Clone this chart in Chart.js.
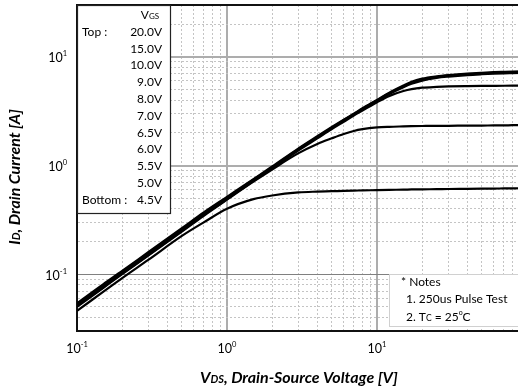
<!DOCTYPE html>
<html>
<head>
<meta charset="utf-8">
<script src="https://cdn.jsdelivr.net/npm/chart.js@4.4.1/dist/chart.umd.min.js"></script>
<style>
  html, body { margin: 0; padding: 0; background: #fff; overflow: hidden; }
  #wrap { width: 530px; height: 391px; }
</style>
</head>
<body>
<div id="wrap"><canvas id="outputChart" width="530" height="391"></canvas></div>
<script>
// drain-source voltage sample points [V]
const vds = [0.1, 0.15, 0.2, 0.3, 0.5, 0.7, 1, 1.5, 2, 3, 4, 5, 6, 7, 8, 10, 12, 15, 17, 20, 25, 30, 40, 50, 60, 70, 80, 100];

// drain current [A] per gate voltage
const id45 = [0.046, 0.069, 0.092, 0.136, 0.225, 0.30, 0.40, 0.49, 0.53, 0.565, 0.575, 0.58, 0.585, 0.588, 0.59, 0.594, 0.597, 0.60, 0.602, 0.604, 0.606, 0.608, 0.61, 0.612, 0.614, 0.615, 0.616, 0.618];
const id50 = [0.050, 0.075, 0.100, 0.149, 0.247, 0.345, 0.485, 0.71, 0.92, 1.30, 1.58, 1.78, 1.95, 2.08, 2.16, 2.24, 2.27, 2.29, 2.30, 2.31, 2.32, 2.32, 2.33, 2.33, 2.34, 2.34, 2.35, 2.35];
const id55 = [0.051, 0.076, 0.101, 0.151, 0.25, 0.35, 0.49, 0.72, 0.94, 1.38, 1.78, 2.17, 2.53, 2.88, 3.2, 3.82, 4.35, 4.85, 5.05, 5.2, 5.29, 5.34, 5.38, 5.40, 5.41, 5.42, 5.43, 5.45];
const id60 = [0.052, 0.078, 0.103, 0.154, 0.255, 0.356, 0.50, 0.73, 0.955, 1.40, 1.81, 2.21, 2.58, 2.94, 3.28, 3.92, 4.52, 5.25, 5.65, 6.05, 6.4, 6.58, 6.8, 6.92, 7.0, 7.05, 7.08, 7.13];
const id70 = [0.053, 0.079, 0.105, 0.157, 0.26, 0.362, 0.505, 0.74, 0.965, 1.42, 1.83, 2.23, 2.61, 2.97, 3.32, 3.97, 4.6, 5.35, 5.78, 6.2, 6.52, 6.7, 6.92, 7.04, 7.12, 7.17, 7.21, 7.26];
const id100 = [0.054, 0.081, 0.107, 0.16, 0.265, 0.37, 0.515, 0.75, 0.98, 1.44, 1.86, 2.26, 2.64, 3.0, 3.36, 4.02, 4.66, 5.45, 5.9, 6.3, 6.62, 6.8, 7.02, 7.14, 7.22, 7.27, 7.31, 7.36];
const curves = [id45, id50, id55, id60, id70, id100];

// gate voltages listed in the box, top to bottom
const vgsLabels = ['20.0V', '15.0V', '10.0V', '9.0V', '8.0V', '7.0V', '6.5V', '6.0V', '5.5V', '5.0V', '4.5V'];

// decade tick labels (10^n)
const xTickValues = [0.1, 1, 10];
const xTickExps = ['-1', '0', '1'];
const yTickValues = [0.1, 1, 10];
const yTickExps = ['-1', '0', '1'];

const notes = ['* Notes', '1. 250us Pulse Test'];

const FONT = 'Lato, "Open Sans", sans-serif';

const isDecade = v => Math.abs(Math.log10(v) - Math.round(Math.log10(v))) < 1e-6;

function logTicks(min, max) {
    const out = [];
    for (let e = Math.floor(Math.log10(min)); e <= Math.ceil(Math.log10(max)); e++) {
        for (let m = 1; m <= 9; m++) {
            const v = +(m * Math.pow(10, e)).toPrecision(6);
            if (v >= min - 1e-9 && v <= max + 1e-9) out.push({ value: v });
        }
    }
    return out;
}

// draws a row of text pieces with their own sizes / vertical shifts
function drawRuns(ctx, x, y, runs, align, style) {
    const widths = runs.map(r => {
        ctx.font = `${style || ''} ${r[1]}px ${FONT}`;
        return ctx.measureText(r[0]).width;
    });
    const total = widths.reduce((a, b) => a + b, 0);
    let cx = align === 'center' ? x - total / 2 : align === 'right' ? x - total : x;
    ctx.textAlign = 'left';
    runs.forEach((r, i) => {
        ctx.font = `${style || ''} ${r[1]}px ${FONT}`;
        ctx.fillText(r[0], cx, y + (r[2] || 0));
        cx += widths[i];
    });
}

const overlay = {
    id: 'overlay',
    afterDraw(chart) {
        const { ctx, chartArea: a, scales: { x, y } } = chart;
        ctx.save();
        ctx.fillStyle = '#000';
        ctx.textBaseline = 'alphabetic';

        // top frame
        ctx.strokeStyle = '#111';
        ctx.lineWidth = 2;
        ctx.beginPath();
        ctx.moveTo(a.left, a.top);
        ctx.lineTo(a.right, a.top);
        ctx.stroke();

        // tick labels
        xTickValues.forEach((v, i) => {
            drawRuns(ctx, x.getPixelForValue(v), 353, [['10', 12.5], [xTickExps[i], 7.5, -6]], 'center');
        });
        yTickValues.forEach((v, i) => {
            drawRuns(ctx, 67, y.getPixelForValue(v) + 5.5, [['10', 12.5], [yTickExps[i], 7.5, -6]], 'right');
        });

        // gate voltage box
        ctx.fillStyle = '#fff';
        ctx.fillRect(a.left, a.top, 93, 208);
        ctx.strokeStyle = '#222';
        ctx.lineWidth = 1.2;
        ctx.strokeRect(a.left + 0.5, a.top + 0.5, 93, 208);
        ctx.fillStyle = '#000';
        drawRuns(ctx, 150, 19, [['V', 12], ['GS', 8]], 'center');
        ctx.textBaseline = 'middle';
        vgsLabels.forEach((t, i) => {
            ctx.font = `12px ${FONT}`;
            ctx.textAlign = 'right';
            ctx.fillText(t, 162, 32 + i * 16.8);
        });
        ctx.textAlign = 'left';
        ctx.fillText('Top :', 82, 32);
        ctx.fillText('Bottom :', 82, 32 + 10 * 16.8);

        // notes box
        ctx.fillStyle = '#fff';
        ctx.fillRect(389, 275, 140, 52);
        ctx.strokeStyle = '#d0d0d0';
        ctx.lineWidth = 1;
        ctx.strokeRect(389.5, 274.5, 140, 52);
        ctx.fillStyle = '#000';
        ctx.font = `12px ${FONT}`;
        ctx.fillText(notes[0], 401, 282);
        ctx.fillText(notes[1], 406, 299);
        ctx.textBaseline = 'alphabetic';
        drawRuns(ctx, 406, 321, [['2. T', 12], ['C', 8.5], [' = 25', 12], ['o', 7, -6], ['C', 12]], 'left');

        // axis titles
        drawRuns(ctx, 299, 383, [['V', 16], ['DS', 11], [', Drain-Source Voltage [V]', 16]], 'center', 'italic bold');
        ctx.translate(20, 177);
        ctx.rotate(-Math.PI / 2);
        drawRuns(ctx, 0, 0, [['I', 16], ['D', 11], [', Drain Current [A]', 16]], 'center', 'italic bold');

        ctx.restore();
    }
};

const gridColor = (c, special) => {
    if (!c.tick) return '#c4c4c4';
    if (special && Math.abs(c.tick.value - 0.1) < 1e-9) return '#808080';
    return isDecade(c.tick.value) ? '#adadad' : '#c4c4c4';
};
const gridWidth = (c, special) => {
    if (!c.tick) return 1;
    if (special && Math.abs(c.tick.value - 0.1) < 1e-9) return 1;
    return isDecade(c.tick.value) ? 2 : 1;
};
const gridDash = c => (c.tick && !isDecade(c.tick.value)) ? [2, 2] : [];

new Chart(document.getElementById('outputChart'), {
    type: 'line',
    data: {
        datasets: curves.map(arr => ({
            data: vds.map((v, i) => ({ x: v, y: arr[i] })),
            borderColor: '#000',
            borderWidth: 2.2,
            pointRadius: 0,
            fill: false,
            cubicInterpolationMode: 'monotone'
        }))
    },
    options: {
        responsive: false,
        animation: false,
        layout: { padding: { top: 5, right: 3, left: 0, bottom: 0 } },
        plugins: { legend: { display: false }, tooltip: { enabled: false }, title: { display: false } },
        scales: {
            x: {
                type: 'logarithmic',
                min: 0.1,
                max: 100,
                afterBuildTicks: s => { s.ticks = logTicks(0.1, 100); },
                afterFit: s => { s.height = 60; },
                ticks: { display: false },
                grid: { drawTicks: false, color: c => gridColor(c, false), lineWidth: c => gridWidth(c, false) },
                border: { color: '#111', width: 2, dash: gridDash }
            },
            y: {
                type: 'logarithmic',
                min: 0.03,
                max: 30,
                afterBuildTicks: s => { s.ticks = logTicks(0.03, 30); },
                afterFit: s => { s.width = 77; },
                ticks: { display: false },
                grid: { drawTicks: false, color: c => gridColor(c, true), lineWidth: c => gridWidth(c, true) },
                border: { color: '#111', width: 2, dash: gridDash }
            }
        }
    },
    plugins: [overlay]
});
</script>
</body>
</html>
